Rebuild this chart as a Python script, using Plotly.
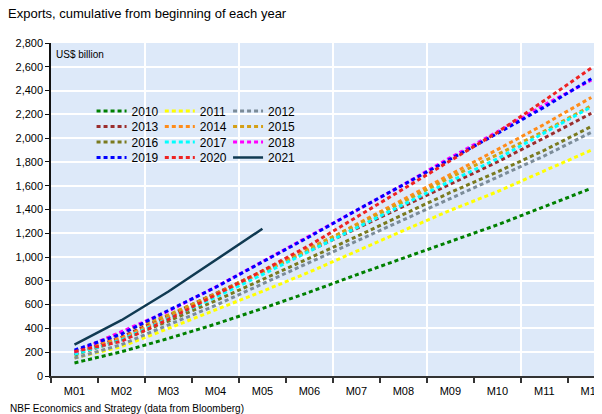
import plotly.graph_objects as go

months = ["M01", "M02", "M03", "M04", "M05", "M06", "M07", "M08", "M09", "M10", "M11", "M12"]

y2010 = [110, 204, 316, 436, 568, 705, 851, 990, 1135, 1271, 1424, 1578]
y2011 = [151, 247, 400, 555, 712, 874, 1050, 1223, 1393, 1550, 1725, 1899]
y2012 = [150, 264, 430, 593, 775, 955, 1132, 1310, 1496, 1672, 1851, 2049]
y2013 = [187, 327, 509, 696, 879, 1053, 1239, 1430, 1615, 1800, 2002, 2209]
y2014 = [207, 321, 491, 680, 875, 1062, 1275, 1483, 1697, 1904, 2116, 2342]
y2015 = [200, 369, 514, 690, 881, 1073, 1268, 1465, 1670, 1862, 2059, 2273]
y2016 = [177, 303, 462, 633, 811, 990, 1172, 1359, 1543, 1716, 1898, 2098]
y2017 = [183, 303, 483, 663, 853, 1049, 1242, 1441, 1638, 1826, 2043, 2263]
y2018 = [200, 372, 546, 747, 960, 1177, 1392, 1609, 1836, 2053, 2280, 2487]
y2019 = [218, 353, 552, 745, 959, 1171, 1393, 1608, 1826, 2039, 2261, 2499]
y2020 = [205, 292, 477, 678, 885, 1098, 1336, 1571, 1811, 2048, 2316, 2590]
y2021 = [263, 469, 710, 974, 1238, None, None, None, None, None, None, None]

years = ["2010", "2011", "2012", "2013", "2014", "2015", "2016", "2017", "2018", "2019", "2020", "2021"]
series = [y2010, y2011, y2012, y2013, y2014, y2015, y2016, y2017, y2018, y2019, y2020, y2021]
colors = ["#008000", "#FFFF00", "#7B8C99", "#9B2D2D", "#FF8C1A", "#D4A017",
          "#7A7A1E", "#00FFFF", "#FF00FF", "#0000FF", "#EE2222", "#103A52"]

FONT = "Liberation Sans, Arial, sans-serif"
OFF = 8                      # page body margin
W, H = 602 - OFF, 414 - OFF  # figure fits the window
# plot area in window pixels
PL, PT, PB, PR = 51, 43, 376, 602
L, T = PL - OFF, PT - OFF
B = H - (PB - OFF)
R = W - (PR - OFF)
pw = W - L - R
ph = H - T - B


def px(x):  # window pixel x -> paper
    return (x - PL) / pw


def py(y):  # window pixel y -> paper
    return (PB - y) / ph


x_idx = list(range(len(months)))

fig = go.Figure()
legend_layouts = {}
col_x = [92, 161, 230]
row_y = [111, 126.5, 142, 157.5]
for i, (yr, ys, c) in enumerate(zip(years, series, colors)):
    solid = yr == "2021"
    lname = "legend" if i == 0 else f"legend{i+1}"
    fig.add_trace(go.Scatter(
        x=x_idx, y=ys, mode="lines", name=yr,
        xaxis="x2" if solid else "x",
        line=dict(color=c, width=2.5 if solid else 3,
                  dash="solid" if solid else "4px,3px"),
        legend=lname, connectgaps=False,
    ))
    row, col = divmod(i, 3)
    legend_layouts[lname] = dict(
        x=px(col_x[col]), y=py(row_y[row]),
        xanchor="left", yanchor="middle", xref="paper", yref="paper",
        bgcolor="rgba(0,0,0,0)", borderwidth=0,
        font=dict(family=FONT, size=12, color="#000"),
    )

boundaries = [i - 0.5 for i in range(len(months) + 1)]
grid_x = [b for k, b in enumerate(boundaries) if k % 2 == 0 and 0 < k < len(months)]

fig.update_layout(
    width=W, height=H,
    margin=dict(l=L, r=R, t=T, b=B, pad=0),
    paper_bgcolor="white", plot_bgcolor="#DDE9F9",
    font=dict(family=FONT, size=11, color="#000"),
    showlegend=True,
    title=dict(text="Exports, cumulative from beginning of each year",
               x=0, xref="container", xanchor="left",
               y=1 - (13 - OFF) / H, yref="container", yanchor="middle",
               pad=dict(l=0, r=0, t=0, b=0),
               font=dict(family=FONT, size=13, color="#000")),
    xaxis=dict(
        range=[-0.5, -0.5 + pw / 47.5], tickmode="array", tickvals=x_idx, ticktext=months,
        showgrid=False, zeroline=False, showline=True, linecolor="#333333", linewidth=2,
        ticks="outside", ticklen=4, tickcolor="rgba(0,0,0,0)",
        ticklabeloverflow="allow", tickfont=dict(size=11),
        minor=dict(tickmode="array", tickvals=boundaries, ticks="outside", ticklen=5,
                   tickcolor="#333333", tickwidth=1.5, showgrid=False),
    ),
    xaxis2=dict(
        overlaying="x", matches="x", tickmode="array", tickvals=grid_x,
        showgrid=True, gridcolor="white", gridwidth=1.5, showticklabels=False,
        ticks="", showline=False, zeroline=False,
    ),
    yaxis=dict(
        range=[0, 2800], tickmode="linear", tick0=0, dtick=200, tickformat=",",
        showgrid=True, gridcolor="white", gridwidth=1.5, zeroline=False,
        showline=True, linecolor="#111111", linewidth=1.5,
        ticks="outside", ticklen=4, tickcolor="#111111", tickfont=dict(size=11),
    ),
    annotations=[
        dict(text="<b>China: Cumulative monthly exports</b>", xref="paper", yref="paper",
             x=px(8), y=py(4), xanchor="left", yanchor="bottom",
             showarrow=False, font=dict(family=FONT, size=17, color="#000")),
        dict(text="US$ billion", xref="paper", yref="paper",
             x=px(54), y=py(54), xanchor="left", yanchor="middle",
             showarrow=False, font=dict(family=FONT, size=10, color="#000")),
        dict(text="NBF Economics and Strategy (data from Bloomberg)", xref="paper", yref="paper",
             x=px(OFF), y=py(408), xanchor="left", yanchor="middle",
             showarrow=False, font=dict(family=FONT, size=10, color="#000")),
    ],
    **legend_layouts,
)

fig.write_html("out.html")
